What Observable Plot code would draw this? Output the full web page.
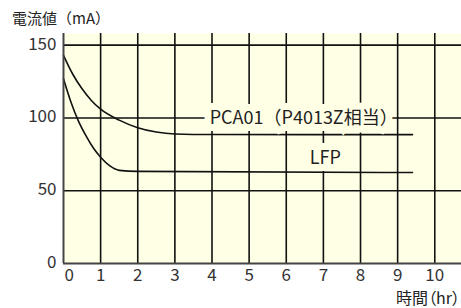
<!DOCTYPE html>
<html><head><meta charset="utf-8">
<script src="https://cdn.jsdelivr.net/npm/d3@7"></script>
<script src="https://cdn.jsdelivr.net/npm/@observablehq/plot@0.6"></script>
<style>
body{margin:0;background:#fff;}
#wrap{position:relative;width:461px;height:308px;font-family:"Noto Sans CJK JP",sans-serif;}
.t{position:absolute;font-size:16px;color:#222;line-height:1;white-space:nowrap;}
#yt{left:12px;top:10px;font-size:15px;}
#xt{right:1px;top:289px;font-feature-settings:"palt";}
</style></head><body><div id="wrap"></div>
<script>
// data
const pcaTime = [0, 0.25, 0.5, 0.75, 1, 1.5, 2, 2.5, 3, 4, 9.4];
const pcaCurrent = [143, 130, 120, 112, 106, 98.5, 93.3, 90.3, 89, 88.6, 88.5];
const lfpTime = [0, 0.2, 0.4, 0.6, 0.8, 1, 1.25, 1.5, 2, 9.4];
const lfpCurrent = [127, 111, 98, 88, 79.5, 73, 67, 64, 63.3, 62.5];
const xTicks = [0, 1, 2, 3, 4, 5, 6, 7, 8, 9, 10];
const yTicks = [0, 50, 100, 150];
const labelText = ["PCA01（P4013Z相当）", "LFP"];
const labelTime = [6.47, 7.05];
const labelCurrent = [100, 72];
const yTitle = "電流値（mA）";
const xTitle = "時間（hr）";

const pca = pcaTime.map((t, i) => ({t, v: pcaCurrent[i]}));
const lfp = lfpTime.map((t, i) => ({t, v: lfpCurrent[i]}));
const labels = labelText.map((text, i) => ({text, t: labelTime[i], v: labelCurrent[i]}));

const bg = "#ffffe5";
const chart = Plot.plot({
  width: 461, height: 308,
  marginLeft: 63, marginTop: 33, marginRight: 0, marginBottom: 45,
  x: {domain: [0, 10.72]},
  y: {domain: [0, 158]},
  style: {fontFamily: '"Noto Sans CJK JP", sans-serif', fontSize: "17px", background: "transparent", color: "#333"},
  marks: [
    Plot.frame({fill: bg, stroke: null}),
    Plot.ruleY(yTicks.filter(d => d > 0), {stroke: "#111", strokeWidth: 1.6}),
    Plot.ruleX(xTicks.filter(d => d > 0), {stroke: "#111", strokeWidth: 1.6}),
    Plot.line(pca, {x: "t", y: "v", curve: "monotone-x", stroke: "#111", strokeWidth: 1.6}),
    Plot.line(lfp, {x: "t", y: "v", curve: "monotone-x", stroke: "#111", strokeWidth: 1.6}),
    Plot.text(labels, {x: "t", y: "v", text: "text", fill: "#222", stroke: bg, strokeWidth: 14, strokeLinejoin: "miter", fontSize: 18}),
    Plot.ruleX([0], {stroke: "#444", strokeWidth: 2}),
    Plot.ruleY([0], {stroke: "#444", strokeWidth: 2}),
    Plot.axisY({ticks: yTicks, tickSize: 0, tickPadding: 7, label: null, fontSize: 17, fill: "#333", dy: -1}),
    Plot.axisX({ticks: xTicks.filter(d => d > 0), tickSize: 0, tickPadding: 5, label: null, fontSize: 17, fill: "#333"}),
    Plot.axisX({ticks: [0], tickSize: 0, tickPadding: 5, label: null, fontSize: 17, fill: "#333", textAnchor: "start", dx: 1})
  ]
});
const wrap = document.getElementById("wrap");
wrap.appendChild(chart);
const a = document.createElement("div"); a.className = "t"; a.id = "yt"; a.textContent = yTitle; wrap.appendChild(a);
const b = document.createElement("div"); b.className = "t"; b.id = "xt"; b.textContent = xTitle; wrap.appendChild(b);
</script></body></html>
